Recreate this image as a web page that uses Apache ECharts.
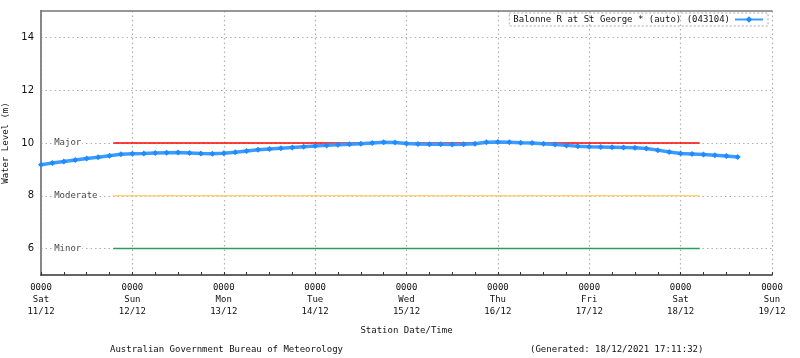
<!DOCTYPE html>
<html>
<head>
<meta charset="utf-8">
<script src="https://cdn.jsdelivr.net/npm/echarts@6/dist/echarts.min.js"></script>
<style>html,body{margin:0;padding:0;background:#fff;}#c{width:800px;height:358px;}</style>
</head>
<body>
<div id="c"></div>
<script>
// Hours since Sat 11/12 00:00 (3-hourly readings) and water level (m)
const hours = [0,3,6,9,12,15,18,21,24,27,30,33,36,39,42,45,48,51,54,57,60,63,66,69,72,75,78,81,84,87,90,93,96,99,102,105,108,111,114,117,120,123,126,129,132,135,138,141,144,147,150,153,156,159,162,165,168,171,174,177,180,183];
const levels = [9.18,9.24,9.30,9.36,9.41,9.46,9.52,9.57,9.59,9.60,9.62,9.63,9.64,9.62,9.60,9.59,9.61,9.65,9.70,9.74,9.77,9.80,9.83,9.86,9.89,9.91,9.93,9.95,9.97,10.00,10.03,10.02,9.98,9.96,9.95,9.95,9.94,9.95,9.97,10.03,10.04,10.03,10.01,10.00,9.97,9.94,9.91,9.88,9.86,9.85,9.84,9.83,9.82,9.79,9.73,9.66,9.60,9.58,9.56,9.54,9.51,9.47];
const dayNames = ['Sat','Sun','Mon','Tue','Wed','Thu','Fri','Sat','Sun'];
const dayDates = ['11/12','12/12','13/12','14/12','15/12','16/12','17/12','18/12','19/12'];
const floodNames = ['Major','Moderate','Minor'];
const floodLevels = [10, 8, 6];
const floodColors = ['#ff0000','#ffd27a','#2e9b5e'];
const floodStart = 19;
const floodEnd = 173;
const seriesName = 'Balonne R at St George * (auto) (043104)';

const mono = 'DejaVu Sans Mono';
const chart = echarts.init(document.getElementById('c'));

const floodSeries = floodNames.map((n, i) => ({
  type: 'line', name: n, silent: true, symbol: 'none',
  data: [[floodStart, floodLevels[i]], [floodEnd, floodLevels[i]]],
  lineStyle: { color: floodColors[i], width: 1.5 }, z: 3
}));
const floodLabels = {
  type: 'scatter', silent: true, symbolSize: 0, z: 4,
  data: floodNames.map((n, i) => [3.2, floodLevels[i], n]),
  label: { show: true, position: 'right', distance: 0, formatter: p => p.value[2],
    fontFamily: mono, fontSize: 9, color: '#111', backgroundColor: '#fff', padding: [1, 1] }
};

chart.setOption({
  animation: false,
  backgroundColor: '#fff',
  grid: { left: 41, right: 28, top: 11, bottom: 83, show: false, containLabel: false, outerBoundsMode: 'none' },
  legend: {
    data: [seriesName], right: 32, top: 13, align: 'right',
    itemWidth: 28, itemHeight: 8, padding: [2, 4],
    borderColor: '#aaa', borderWidth: 1, borderType: [2, 2],
    textStyle: { fontFamily: mono, fontSize: 9, color: '#111' }
  },
  xAxis: [{
    type: 'value', min: 0, max: 192, interval: 24,
    name: 'Station Date/Time', nameLocation: 'middle', nameGap: 51,
    nameTextStyle: { fontFamily: mono, fontSize: 9, color: '#111' },
    axisLine: { lineStyle: { color: '#333', width: 1.5 } },
    axisTick: { inside: true, length: 3, lineStyle: { color: '#333' } },
    minorTick: { show: true, splitNumber: 4, length: 3, lineStyle: { color: '#333' } },
    axisLabel: { margin: 7, fontFamily: mono, fontSize: 9, color: '#111', lineHeight: 12,
      formatter: v => { const i = Math.round(v / 24); return '0000\n' + dayNames[i] + '\n' + dayDates[i]; } },
    splitLine: { show: true, lineStyle: { color: ['#b0b0b0'], type: [1.5, 3], width: 1.2 } }
  }, {
    type: 'value', min: 0, max: 192, position: 'top',
    axisLine: { show: true, lineStyle: { color: '#777', width: 1.5 } },
    axisTick: { show: false }, axisLabel: { show: false }, splitLine: { show: false }
  }],
  yAxis: [{
    type: 'value', min: 5, max: 15, interval: 1,
    name: 'Water Level (m)', nameLocation: 'middle', nameGap: 26, nameRotate: 90,
    nameTextStyle: { fontFamily: mono, fontSize: 9, color: '#111' },
    axisLine: { show: true, lineStyle: { color: '#333', width: 1.5 } },
    axisTick: { show: false },
    axisLabel: { margin: 7, fontFamily: 'DejaVu Sans', fontSize: 10, color: '#111',
      formatter: v => (v % 2 === 0 ? String(v) : '') },
    splitLine: { show: true, lineStyle: { color: ['rgba(0,0,0,0)', '#b0b0b0'], type: [1.5, 3], width: 1.2 } }
  }, {
    type: 'value', min: 5, max: 15, interval: 1, position: 'right',
    axisLine: { show: true, lineStyle: { color: '#888', width: 2 } },
    axisTick: { show: false }, axisLabel: { show: false }, splitLine: { show: false }
  }],
  graphic: [
    { type: 'text', left: 110, top: 345, style: { text: 'Australian Government Bureau of Meteorology', font: '9px "DejaVu Sans Mono"', fill: '#111' } },
    { type: 'text', left: 530, top: 345, style: { text: '(Generated: 18/12/2021 17:11:32)', font: '9px "DejaVu Sans Mono"', fill: '#111' } }
  ],
  series: [
    ...floodSeries,
    floodLabels,
    {
      type: 'line', name: seriesName, z: 5,
      data: hours.map((h, i) => [h, levels[i]]),
      symbol: 'diamond', symbolSize: 6, showSymbol: true,
      itemStyle: { color: '#1e8cff' },
      lineStyle: { color: '#3d9bff', width: 3.5 }
    }
  ]
});
</script>
</body>
</html>
